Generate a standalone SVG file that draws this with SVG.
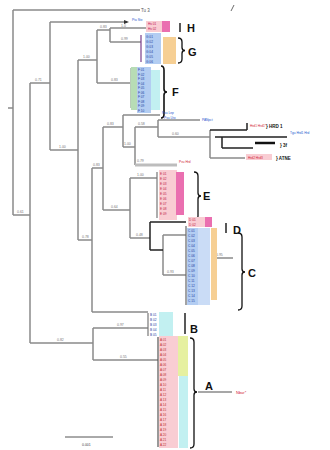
<svg xmlns="http://www.w3.org/2000/svg" width="330" height="450" viewBox="0 0 330 450">
<style>
.br{stroke:#8a8a8a;stroke-width:1.5;fill:none}
.bk{stroke:#222;stroke-width:1.5;fill:none}
.comb{stroke-width:1.2;fill:none}
.bs{font-family:"Liberation Sans",Arial,sans-serif;font-size:3.5px;fill:#777}
.lf{font-family:"Liberation Sans",Arial,sans-serif;font-size:3.2px}
.grp{font-family:"Liberation Sans",Arial,sans-serif;font-size:11px;font-weight:bold;fill:#111}
.sm{font-family:"Liberation Sans",Arial,sans-serif;font-size:4.5px;font-weight:bold;fill:#111}
.brace{stroke:#111;stroke-width:1.3;fill:none}
.pk{fill:#f9cdd3}.mg{fill:#ea6fb0}.bl{fill:#b3cdf2}.cy{fill:#c2f0f1}.or{fill:#f6cf94}.yg{fill:#e6f0a0}.gr{fill:#b7dcb5}
</style>
<rect width="330" height="450" fill="#fff"/>
<g id="connectors">
<path class="br" d="M8,108H13 M13,10V215 M13,10H140 M13,215H30 M30,83V343 M30,83H50 M30,343H93 M50,22V150 M50,22H127 M50,150H78 M78,60V240 M78,60H97 M78,240H92 M97,30V83 M97,30H110 M97,83H130 M110,28V42 M110,28H146 M110,42H141 M92,168V312 M92,168H103 M92,312H148 M93,328V360 M93,328H148 M93,360H158 M103,127V210 M103,127H123 M103,210H130 M123,115V147 M123,115H160 M123,147H135 M135,127V165 M135,127H158 M158,120V137 M158,120H200 M158,137H210 M210,130V158 M210,158H245 M130,178V238 M130,178H157 M130,238H150 M163,235V275 M163,235H186 M163,275H186 M213,258H233 M198,392H232"/>
<path class="bk" d="M210,130H247 M247,123V130 M215,137H287 M222,137V148 M222,148H253 M150,222V250 M150,222H186 M150,250H163"/>
<path d="M255,143H275" stroke="#111" stroke-width="2.5"/>
<path d="M135,165H177" stroke="#bdbdbd" stroke-width="3"/>
<path d="M124,20L129,22L124,24Z" fill="#333"/>
<path d="M231,11L234,5" stroke="#444" stroke-width="0.8"/>
<path class="comb" stroke="#7a3d8a" d="M141,35V62"/>
<path class="comb" stroke="#8aa88a" d="M131,68V108"/>
<path class="comb" stroke="#777" d="M157,172V218"/>
<path class="comb" stroke="#666" d="M186,226V305"/>
<path class="comb" stroke="#777" d="M148,313V336"/>
<path class="comb" stroke="#555" d="M158,337V447"/>
<g class="bs">
<text x="141" y="12" style="font-size:4.5px;fill:#555">Tu 3</text>
<text x="17" y="213">0.61</text><text x="35" y="81">0.71</text><text x="57" y="341">0.82</text>
<text x="59" y="148">1.00</text><text x="83" y="58">1.00</text><text x="82" y="238">0.78</text>
<text x="100" y="28">0.83</text><text x="111" y="81">0.83</text><text x="121" y="27">1.0</text>
<text x="121" y="40">0.99</text><text x="107" y="125">0.83</text><text x="138" y="125">0.58</text>
<text x="124" y="145">1.00</text><text x="137" y="162">0.79</text><text x="111" y="208">0.64</text>
<text x="137" y="176">1.00</text><text x="136" y="236">0.48</text><text x="167" y="273">0.93</text>
<text x="117" y="326">0.97</text><text x="120" y="358">0.55</text><text x="93" y="166">0.83</text>
<text x="172" y="135">0.60</text><text x="216" y="256">0.95</text>
</g>
</g>
<g id="H">
<rect class="pk" x="146" y="21" width="18" height="11"/><rect class="mg" x="162" y="21" width="8" height="11"/>
<text class="lf" fill="#2255cc" x="132" y="21">Ptu Ste</text>
<text class="lf" fill="#c01050"><tspan x="148" y="25">Hs 01</tspan><tspan x="148" y="30">Hs 02</tspan></text>
<path class="bk" d="M180,23V32"/>
<text class="grp" x="187" y="32">H</text>
</g>
<g id="G">
<rect class="bl" x="145" y="33" width="16" height="31"/><rect class="or" x="163" y="37" width="13" height="27"/>
<text class="lf" fill="#2040a0"><tspan x="146" y="38">G 01</tspan><tspan x="146" y="43">G 02</tspan><tspan x="146" y="48">G 03</tspan><tspan x="146" y="53">G 04</tspan><tspan x="146" y="58">G 05</tspan><tspan x="146" y="63">G 06</tspan></text>
<path class="brace" d="M178,38q4,0 4,4V47.5q0,3 3,3q-3,0 -3,3V59q0,4 -4,4"/>
<text class="grp" x="188" y="56">G</text>
</g>
<g id="F">
<rect class="gr" x="131" y="67" width="6" height="43"/><rect class="bl" x="137" y="67" width="14" height="46"/><rect class="cy" x="151" y="70" width="9" height="40"/>
<text class="lf" fill="#2040a0"><tspan x="138" y="71">F 01</tspan><tspan x="138" y="75.5">F 02</tspan><tspan x="138" y="80">F 03</tspan><tspan x="138" y="84.5">F 04</tspan><tspan x="138" y="89">F 05</tspan><tspan x="138" y="93.5">F 06</tspan><tspan x="138" y="98">F 07</tspan><tspan x="138" y="102.5">F 08</tspan><tspan x="138" y="107">F 09</tspan><tspan x="138" y="111.5">F 10</tspan></text>
<path d="M161,66q3,0 3,4V89q0,3 3,3q-3,0 -3,3V114q0,4 -3,4" stroke="#111" stroke-width="1.6" fill="none"/>
<text class="grp" x="172" y="96">F</text>
<text class="lf" fill="#2255cc" x="164" y="119">Pvu Lhx</text>
</g>
<g id="HRD1">
<text class="lf" fill="#2255cc" x="162" y="114">Pvu Lep</text>
<text class="lf" fill="#2255cc" x="202" y="121">PANpct</text>
<text class="lf" fill="#d02030" x="179" y="163">Pvu Hrd</text>
<text class="lf" fill="#d02030" x="250" y="127">Hrd1 Hrd1*</text>
<text class="sm" x="266" y="128">} HRD 1</text>
<text class="lf" fill="#2255cc" x="290" y="134">Tgu Hrd1 Hrd</text>
<text class="sm" x="280" y="147">} 3f</text>
<rect class="pk" x="246" y="154" width="26" height="6"/>
<text class="lf" fill="#d02030" x="248" y="158.5">Hrd2 Hrd3</text>
<text class="sm" x="276" y="160">} ATNE</text>
</g>
<g id="E">
<rect class="pk" x="159" y="170" width="18" height="50"/><rect class="mg" x="176" y="172" width="8" height="43"/>
<text class="lf" fill="#c02040"><tspan x="160" y="175">E 01</tspan><tspan x="160" y="180">E 02</tspan><tspan x="160" y="185">E 03</tspan><tspan x="160" y="190">E 04</tspan><tspan x="160" y="195">E 05</tspan><tspan x="160" y="200">E 06</tspan><tspan x="160" y="205">E 07</tspan><tspan x="160" y="210">E 08</tspan><tspan x="160" y="215">E 09</tspan></text>
<path class="brace" d="M194,172q4,0 4,4V193q0,3 3,3q-3,0 -3,3V216q0,4 -4,4"/>
<text class="grp" x="203" y="200">E</text>
</g>
<g id="D">
<rect class="pk" x="188" y="217" width="18" height="10"/><rect class="mg" x="205" y="217" width="7" height="10"/>
<text class="lf" fill="#c02040"><tspan x="189" y="221">D 01</tspan><tspan x="189" y="226">D 02</tspan></text>
<path class="bk" d="M226,223V233"/>
<text class="grp" x="233" y="234">D</text>
</g>
<g id="C">
<rect class="bl" x="187" y="228" width="11" height="77"/><rect class="bl" x="198" y="228" width="12" height="77" opacity="0.7"/><rect class="or" x="211" y="228" width="6" height="72"/>
<text class="lf" fill="#2040a0"><tspan x="188" y="232">C 01</tspan><tspan x="188" y="237">C 02</tspan><tspan x="188" y="242">C 03</tspan><tspan x="188" y="247">C 04</tspan><tspan x="188" y="252">C 05</tspan><tspan x="188" y="257">C 06</tspan><tspan x="188" y="262">C 07</tspan><tspan x="188" y="267">C 08</tspan><tspan x="188" y="272">C 09</tspan><tspan x="188" y="277">C 10</tspan><tspan x="188" y="282">C 11</tspan><tspan x="188" y="287">C 12</tspan><tspan x="188" y="292">C 13</tspan><tspan x="188" y="297">C 14</tspan><tspan x="188" y="302">C 15</tspan></text>
<path class="brace" d="M238,233q4,0 4,4V269q0,3 3,3q-3,0 -3,3V306q0,4 -4,4"/>
<text class="grp" x="248" y="277">C</text>
</g>
<g id="B">
<rect class="cy" x="159" y="312" width="14" height="24"/>
<text class="lf" fill="#2040a0"><tspan x="150" y="316">B 01</tspan><tspan x="150" y="321">B 02</tspan><tspan x="150" y="326">B 03</tspan><tspan x="150" y="331">B 04</tspan><tspan x="150" y="336">B 05</tspan></text>
<path class="bk" d="M185,313V334"/>
<text class="grp" x="190" y="333">B</text>
</g>
<g id="A">
<rect class="pk" x="159" y="336" width="19" height="112"/><rect class="yg" x="178" y="336" width="10" height="40"/><rect class="cy" x="179" y="376" width="9" height="72"/>
<text class="lf" fill="#c03030"><tspan x="160" y="341">A 01</tspan><tspan x="160" y="346">A 02</tspan><tspan x="160" y="351">A 03</tspan><tspan x="160" y="356">A 04</tspan><tspan x="160" y="361">A 05</tspan><tspan x="160" y="366">A 06</tspan><tspan x="160" y="371">A 07</tspan><tspan x="160" y="376">A 08</tspan><tspan x="160" y="381">A 09</tspan><tspan x="160" y="386">A 10</tspan><tspan x="160" y="391">A 11</tspan><tspan x="160" y="396">A 12</tspan><tspan x="160" y="401">A 13</tspan><tspan x="160" y="406">A 14</tspan><tspan x="160" y="411">A 15</tspan><tspan x="160" y="416">A 16</tspan><tspan x="160" y="421">A 17</tspan><tspan x="160" y="426">A 18</tspan><tspan x="160" y="431">A 19</tspan><tspan x="160" y="436">A 20</tspan><tspan x="160" y="441">A 21</tspan><tspan x="160" y="446">A 22</tspan></text>
<path class="brace" d="M190,338q4,0 4,4V389q0,3 3,3q-3,0 -3,3V444q0,4 -4,4"/>
<text class="grp" x="205" y="390">A</text>
<text class="lf" fill="#d02030" x="236" y="393.5" style="font-size:4px">Nbur*</text>
</g>
<g id="scale">
<path d="M65,437H113" stroke="#555" stroke-width="1"/>
<text class="bs" x="82" y="446" style="fill:#444">0.001</text>
</g>
</svg>
